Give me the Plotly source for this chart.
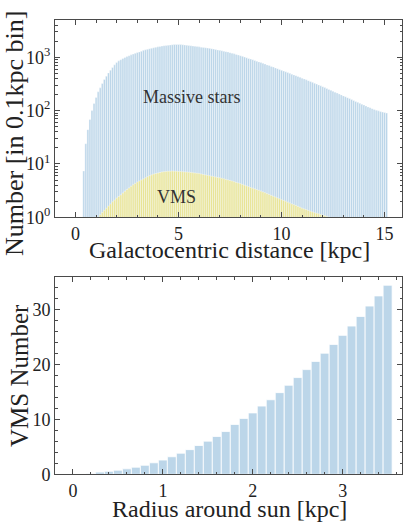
import numpy as np
import plotly.graph_objects as go


##############################################################
# Data
##############################################################

# top panel: galactocentric distance, 0.1 kpc bins
massive_start = 0.4
massive_counts = [
    7.4, 24, 44, 68, 100, 136, 177, 225, 267, 323,
    384, 443, 510, 573, 644, 721, 800, 857, 900, 950,
    990, 1030, 1070, 1110, 1150, 1190, 1230, 1260, 1300, 1350,
    1380, 1410, 1445, 1480, 1510, 1540, 1570, 1600, 1625, 1650,
    1670, 1690, 1705, 1720, 1730, 1735, 1735, 1730, 1720, 1705,
    1690, 1670, 1650, 1630, 1610, 1590, 1570, 1550, 1530, 1510,
    1490, 1470, 1450, 1425, 1400, 1375, 1350, 1325, 1300, 1275,
    1250, 1220, 1190, 1160, 1130, 1100, 1070, 1040, 1010, 980,
    950, 925, 900, 870, 845, 820, 795, 770, 745, 720,
    700, 675, 655, 632, 612, 592, 572, 553, 535, 517,
    500, 483, 467, 451, 436, 421, 406, 392, 378, 365,
    352, 339, 327, 315, 303, 292, 281, 270, 260, 250,
    240, 231, 222, 213, 205, 197, 189, 182, 175, 168,
    161, 155, 149, 143, 137, 132, 127, 122, 117, 113,
    109, 105, 102, 99, 96, 94, 92, 90,
]

vms_start = 1.0
vms_counts = [
    0.9, 1.0, 1.12, 1.23, 1.35, 1.48, 1.62, 1.78, 1.95, 2.1,
    2.29, 2.46, 2.63, 2.85, 3.09, 3.32, 3.55, 3.8, 4.07, 4.32,
    4.57, 4.79, 5.01, 5.25, 5.5, 5.76, 6.03, 6.25, 6.46, 6.61,
    6.76, 6.92, 7.08, 7.16, 7.24, 7.29, 7.33, 7.35, 7.33, 7.3,
    7.25, 7.2, 7.15, 7.1, 7.05, 7.0, 6.92, 6.84, 6.76, 6.68,
    6.6, 6.48, 6.36, 6.24, 6.12, 6.0, 5.9, 5.8, 5.7, 5.6,
    5.5, 5.38, 5.26, 5.14, 5.02, 4.9, 4.77, 4.64, 4.51, 4.39,
    4.27, 4.14, 4.01, 3.88, 3.75, 3.63, 3.52, 3.41, 3.3, 3.2,
    3.09, 2.98, 2.88, 2.77, 2.67, 2.57, 2.48, 2.39, 2.31, 2.22,
    2.14, 2.07, 2.0, 1.92, 1.85, 1.78, 1.72, 1.66, 1.6, 1.54,
    1.48, 1.43, 1.39, 1.34, 1.3, 1.26, 1.22, 1.19, 1.16, 1.13,
    1.1, 1.07, 1.04, 1.01, 0.98,
]

# bottom panel: VMS number vs radius around the sun, 0.1 kpc bins
sun_start = 0.0
sun_counts = [
    0, 0, 0.1, 0.4, 0.55, 0.75, 1.0, 1.3, 1.65, 2.1,
    2.6, 3.2, 3.85, 4.5, 5.25, 6.05, 6.9, 7.8, 9.1, 10.2,
    11.2, 12.45, 13.6, 14.9, 16.25, 17.65, 19.1, 20.6, 22.1, 23.7,
    25.35, 27.05, 28.8, 30.7, 32.55, 34.5,
]

bin_width = 0.1
massive_r = np.round(massive_start + bin_width * np.arange(len(massive_counts)), 2)
vms_r = np.round(vms_start + bin_width * np.arange(len(vms_counts)), 2)
sun_r = np.round(sun_start + bin_width * np.arange(len(sun_counts)), 2)

log_ticks = [1, 10, 100, 1000]
log_ticktext = ["10<sup>0</sup>", "10<sup>1</sup>", "10<sup>2</sup>", "10<sup>3</sup>"]
log_minor = [m * 10 ** d for d in range(4) for m in range(2, 10) if m * 10 ** d < 5000]


##############################################################
# Styling
##############################################################

BLUE = "rgb(188,214,233)"
YELLOW = "rgb(232,228,150)"
FRAME = "#4a4a4a"
TEXT = "#222222"
FONT = "Liberation Serif"

W, H = 407, 523


def px_x(x):
    return x / W


def px_y(y):
    return 1 - y / H


axis_common = dict(
    automargin=False,
    showline=True,
    linecolor=FRAME,
    linewidth=1,
    mirror="allticks",
    ticks="inside",
    ticklen=5,
    tickwidth=1,
    tickcolor=FRAME,
    showgrid=False,
    zeroline=False,
    tickfont=dict(family=FONT, size=18, color=TEXT),
)

minor_common = dict(ticks="inside", ticklen=2.5, tickwidth=0.8, tickcolor=FRAME, showgrid=False)


##############################################################
# Figure
##############################################################

fig = go.Figure()

fig.add_trace(go.Bar(
    x=massive_r, y=massive_counts, width=bin_width,
    marker=dict(color=BLUE, line=dict(color="white", width=0.4)),
    xaxis="x", yaxis="y",
))

fig.add_trace(go.Bar(
    x=vms_r, y=vms_counts, width=bin_width,
    marker=dict(color=YELLOW, line=dict(color="white", width=0.4)),
    xaxis="x", yaxis="y",
))

fig.add_trace(go.Bar(
    x=sun_r, y=sun_counts, width=bin_width,
    marker=dict(color=BLUE, line=dict(color="white", width=0.8)),
    xaxis="x2", yaxis="y2",
))

fig.update_layout(
    width=W, height=H,
    autosize=False,
    margin=dict(l=0, r=0, t=0, b=0, pad=0),
    paper_bgcolor="white",
    plot_bgcolor="white",
    barmode="overlay",
    showlegend=False,
    xaxis=dict(
        axis_common,
        domain=[px_x(55), px_x(402)],
        range=[-1.0, 15.85],
        anchor="y",
        tickvals=[0, 5, 10, 15],
        minor=dict(minor_common, dtick=1),
    ),
    yaxis=dict(
        axis_common,
        type="log",
        domain=[px_y(217.3), px_y(20)],
        range=[0, np.log10(5000)],
        anchor="x",
        tickvals=log_ticks,
        ticktext=log_ticktext,
        minor=dict(minor_common, tickmode="array", tickvals=log_minor),
    ),
    xaxis2=dict(
        axis_common,
        domain=[px_x(55), px_x(402)],
        range=[-0.2, 3.66],
        anchor="y2",
        tickvals=[0, 1, 2, 3],
        minor=dict(minor_common, dtick=0.2),
    ),
    yaxis2=dict(
        axis_common,
        domain=[px_y(474.3), px_y(277)],
        range=[0, 36],
        anchor="x2",
        tickvals=[0, 10, 20, 30],
        minor=dict(minor_common, dtick=2),
    ),
)

annotations = [
    dict(text="Number [in 0.1kpc bin]", x=px_x(15), y=px_y(133), textangle=-90, size=26),
    dict(text="Galactocentric distance [kpc]", x=px_x(229), y=px_y(250), textangle=0, size=24),
    dict(text="VMS Number", x=px_x(19), y=px_y(376), textangle=-90, size=25),
    dict(text="Radius around sun [kpc]", x=px_x(229), y=px_y(509), textangle=0, size=24),
]
for a in annotations:
    fig.add_annotation(
        text=a["text"], x=a["x"], y=a["y"], xref="paper", yref="paper",
        textangle=a["textangle"], showarrow=False,
        xanchor="center", yanchor="middle",
        font=dict(family=FONT, size=a["size"], color=TEXT),
    )

# panel labels inside the top histogram
fig.add_annotation(text="Massive stars", x=5.64, y=np.log10(177), xref="x", yref="y",
                   showarrow=False, font=dict(family=FONT, size=18, color="#333333"))
fig.add_annotation(text="VMS", x=4.9, y=np.log10(2.37), xref="x", yref="y",
                   showarrow=False, font=dict(family=FONT, size=18, color="#333333"))

# the page body has a default margin; drop it so the figure sits at the corner
fig.write_html(
    "out.html",
    config={"displayModeBar": False},
    post_script="document.body.style.margin = '0';",
)
